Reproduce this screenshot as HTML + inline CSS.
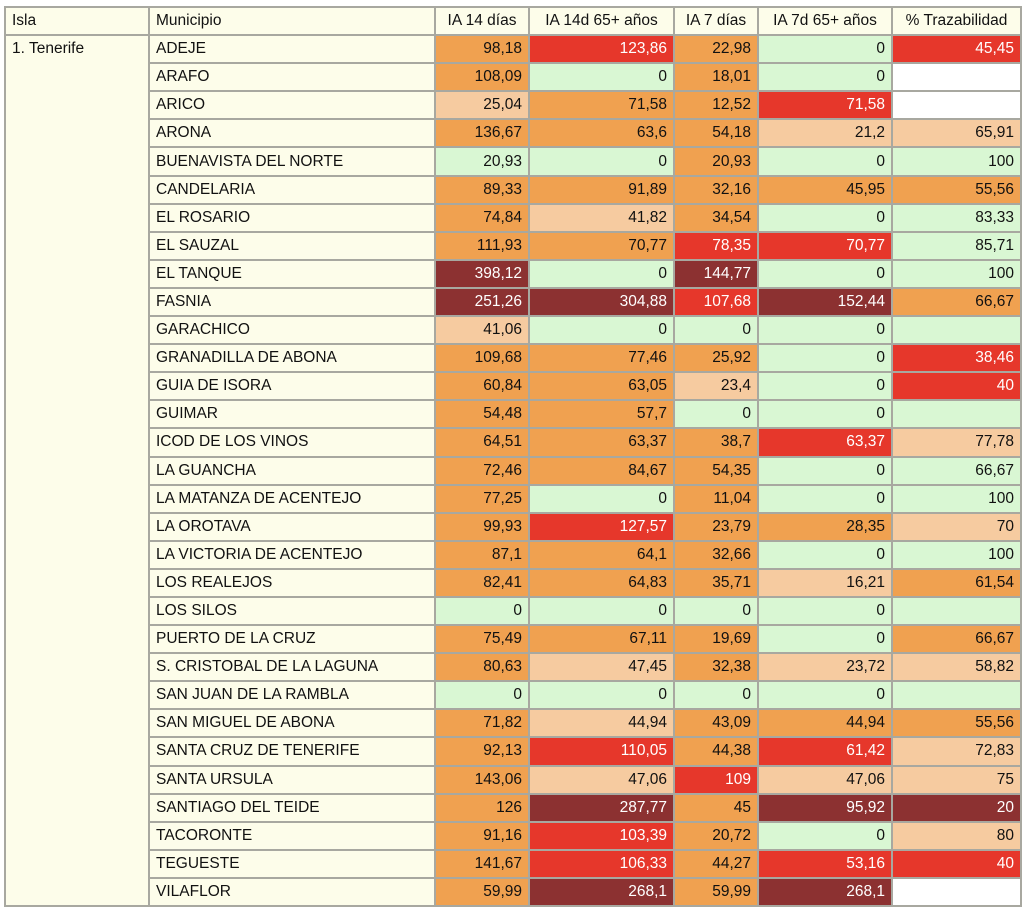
<!DOCTYPE html>
<html><head><meta charset="utf-8">
<style>
html,body{margin:0;padding:0;background:#fff;width:1023px;height:909px;overflow:hidden}
table{position:absolute;left:4px;top:6px;border-collapse:collapse;table-layout:fixed;font-family:"Liberation Sans",Arial,sans-serif;font-size:15.5px;color:#111}
td,th{border:2px solid #a8a8a0;height:26.1px;padding:0 6px;white-space:nowrap;overflow:hidden;background:#fdfdea}
th{font-weight:normal;text-align:left}
th.n{text-align:center;padding:0 2px}
td.v{text-align:right}
.o{background:#f0a150}.l{background:#f6cba0}.g{background:#d9f7d3}.r{background:#e6372b;color:#fff}.d{background:#8c3131;color:#fff}.w{background:#fff}
td.isla{vertical-align:top;padding-top:4px}
</style></head><body>
<table>
<colgroup><col style="width:144px"><col style="width:286px"><col style="width:94px"><col style="width:145px"><col style="width:84px"><col style="width:134px"><col style="width:129px"></colgroup>
<thead><tr>
<th>Isla</th>
<th>Municipio</th>
<th class="n">IA 14 días</th>
<th class="n">IA 14d 65+ años</th>
<th class="n">IA 7 días</th>
<th class="n">IA 7d 65+ años</th>
<th class="n">% Trazabilidad</th>
</tr></thead>
<tbody id="tb"></tbody>
</table>
<script>
const municipios=["ADEJE","ARAFO","ARICO","ARONA","BUENAVISTA DEL NORTE","CANDELARIA","EL ROSARIO","EL SAUZAL","EL TANQUE","FASNIA","GARACHICO","GRANADILLA DE ABONA","GUIA DE ISORA","GUIMAR","ICOD DE LOS VINOS","LA GUANCHA","LA MATANZA DE ACENTEJO","LA OROTAVA","LA VICTORIA DE ACENTEJO","LOS REALEJOS","LOS SILOS","PUERTO DE LA CRUZ","S. CRISTOBAL DE LA LAGUNA","SAN JUAN DE LA RAMBLA","SAN MIGUEL DE ABONA","SANTA CRUZ DE TENERIFE","SANTA URSULA","SANTIAGO DEL TEIDE","TACORONTE","TEGUESTE","VILAFLOR"];
const ia14=["98,18","108,09","25,04","136,67","20,93","89,33","74,84","111,93","398,12","251,26","41,06","109,68","60,84","54,48","64,51","72,46","77,25","99,93","87,1","82,41","0","75,49","80,63","0","71,82","92,13","143,06","126","91,16","141,67","59,99"];
const ia14_65=["123,86","0","71,58","63,6","0","91,89","41,82","70,77","0","304,88","0","77,46","63,05","57,7","63,37","84,67","0","127,57","64,1","64,83","0","67,11","47,45","0","44,94","110,05","47,06","287,77","103,39","106,33","268,1"];
const ia7=["22,98","18,01","12,52","54,18","20,93","32,16","34,54","78,35","144,77","107,68","0","25,92","23,4","0","38,7","54,35","11,04","23,79","32,66","35,71","0","19,69","32,38","0","43,09","44,38","109","45","20,72","44,27","59,99"];
const ia7_65=["0","0","71,58","21,2","0","45,95","0","70,77","0","152,44","0","0","0","0","63,37","0","0","28,35","0","16,21","0","0","23,72","0","44,94","61,42","47,06","95,92","0","53,16","268,1"];
const traz=["45,45","","","65,91","100","55,56","83,33","85,71","100","66,67","","38,46","40","","77,78","66,67","100","70","100","61,54","","66,67","58,82","","55,56","72,83","75","20","80","40",""];
const colors=["orogr","ogogw","loorw","oooll","ggogg","ooooo","ologg","oorrg","dgdgg","ddrdo","lgggg","ooogr","oolgr","ooggg","ooorl","ooogg","ogogg","orool","ooogg","ooolo","ggggg","ooogo","ololl","ggggg","olooo","ororl","olrll","ododd","orogl","ororr","ododw"];
const cols=[ia14,ia14_65,ia7,ia7_65,traz];
const colNames=["ia14","ia14-65","ia7","ia7-65","trazabilidad"];
const tb=document.getElementById('tb');
municipios.forEach((m,i)=>{
  const tr=document.createElement('tr');
  
  
  if(i===0){
    const td=document.createElement('td');
    td.rowSpan=municipios.length;td.className='isla';td.textContent='1. Tenerife';
    
    
    tr.appendChild(td);
  }
  const tm=document.createElement('td');tm.textContent=m;
  
  
  tr.appendChild(tm);
  cols.forEach((c,j)=>{
    const td=document.createElement('td');
    td.className='v '+colors[i][j];td.textContent=c[i];
    
    
    tr.appendChild(td);
  });
  tb.appendChild(tr);
});
</script>
</body></html>
